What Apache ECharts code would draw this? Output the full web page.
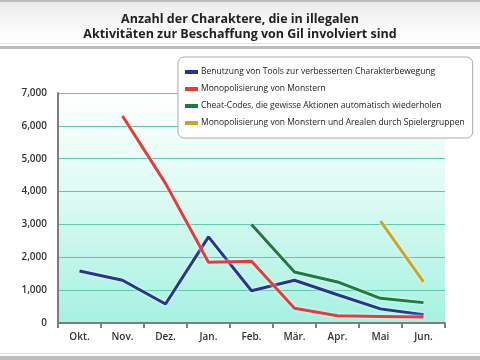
<!DOCTYPE html>
<html><head><meta charset="utf-8">
<script src="https://cdn.jsdelivr.net/npm/echarts@6/dist/echarts.min.js"></script>
<style>html,body{margin:0;padding:0;background:#fff}#c{width:480px;height:360px}</style>
</head><body><div id="c"></div>
<script>
var categories = ['Okt.','Nov.','Dez.','Jan.','Feb.','Mär.','Apr.','Mai','Jun.'];
var seriesNames = [
  'Benutzung von Tools zur verbesserten Charakterbewegung',
  'Monopolisierung von Monstern',
  'Cheat-Codes, die gewisse Aktionen automatisch wiederholen',
  'Monopolisierung von Monstern und Arealen durch Spielergruppen'
];
var toolsValues = [1580, 1300, 580, 2620, 980, 1300, 860, 430, 250];
var monsterValues = [null, 6300, 4250, 1850, 1880, 450, 220, 200, 180];
var cheatValues = [null, null, null, null, 3000, 1550, 1250, 750, 620];
var groupValues = [null, null, null, null, null, null, null, 3100, 1250];
var yTicks = [0, 1000, 2000, 3000, 4000, 5000, 6000, 7000];
var colors = ['#27358f', '#e63b3c', '#1f7a3b', '#c9a626'];
var titleText = 'Anzahl der Charaktere, die in illegalen\nAktivitäten zur Beschaffung von Gil involviert sind';

var chart = echarts.init(document.getElementById('c'), null, {renderer: 'canvas'});
function mk(name, data, color) {
  return {
    name: name, type: 'line', data: data, symbol: 'none', connectNulls: false,
    lineStyle: {color: color, width: 3, shadowColor: 'rgba(255,255,255,0.9)', shadowBlur: 3},
    itemStyle: {color: color}
  };
}
chart.setOption({
  animation: false,
  textStyle: {fontFamily: 'Open Sans'},
  graphic: [
    {type: 'rect', shape: {x: 0, y: 0, width: 480, height: 46}, silent: true, z: -10,
     style: {fill: new echarts.graphic.LinearGradient(0, 0, 0, 1, [
       {offset: 0, color: '#e9e9e9'}, {offset: 0.7, color: '#fcfcfc'}, {offset: 1, color: '#ffffff'}])}},
    {type: 'rect', shape: {x: 0, y: 0, width: 480, height: 2}, style: {fill: '#bdbdbd'}, silent: true, z: -9},
    {type: 'rect', shape: {x: 0, y: 43, width: 480, height: 1}, style: {fill: '#e2e2e2'}, silent: true, z: -9},
    {type: 'rect', shape: {x: 0, y: 46, width: 480, height: 3}, style: {fill: '#bdbdbd'}, silent: true, z: -9},
    {type: 'rect', shape: {x: 0, y: 353, width: 480, height: 1}, style: {fill: '#e2e2e2'}, silent: true, z: -9},
    {type: 'rect', shape: {x: 0, y: 356, width: 480, height: 4}, style: {fill: '#bdbdbd'}, silent: true, z: -9}
  ],
  title: {
    text: titleText, left: 'center', top: 7, itemGap: 0,
    textStyle: {fontFamily: 'Open Sans', fontSize: 12.5, fontWeight: 'bold', color: '#222', lineHeight: 15, align: 'center'}
  },
  legend: {
    orient: 'vertical', left: 178, top: 57,
    backgroundColor: '#fff', borderColor: '#aaa', borderWidth: 1, borderRadius: 6,
    padding: [9, 8, 9, 7], itemGap: 5, itemWidth: 13, itemHeight: 4, icon: 'rect',
    textStyle: {fontFamily: 'Open Sans', fontSize: 8.5, color: '#222', padding: [0, 0, 0, -2], lineHeight: 12, height: 12},
    data: seriesNames
  },
  grid: {
    left: 58, right: 35, top: 93, bottom: 37, show: true, borderWidth: 0,
    backgroundColor: new echarts.graphic.LinearGradient(0, 0, 0, 1, [
      {offset: 0, color: '#fdfffe'}, {offset: 0.45, color: '#dcfaf2'}, {offset: 1, color: '#a5f1e1'}])
  },
  xAxis: {
    type: 'category', data: categories, boundaryGap: true,
    axisLine: {lineStyle: {color: '#7d7d7d', width: 2}},
    axisTick: {show: true, length: 5, lineStyle: {color: '#7d7d7d', width: 2}},
    axisLabel: {color: '#333', fontSize: 10, fontFamily: 'Open Sans', margin: 9, fontWeight: 600}
  },
  yAxis: {
    type: 'value', min: 0, max: 7000, interval: 1000,
    axisLine: {show: true, lineStyle: {color: '#7d7d7d', width: 2}},
    axisTick: {show: false},
    splitLine: {lineStyle: {color: '#5ccaa6', width: 1}},
    axisLabel: {color: '#333', fontSize: 10, fontFamily: 'Open Sans', margin: 11, fontWeight: 600,
      formatter: function (v) { return yTicks.indexOf(v) >= 0 ? v.toLocaleString('en-US') : ''; }}
  },
  series: [
    mk(seriesNames[0], toolsValues, colors[0]),
    mk(seriesNames[1], monsterValues, colors[1]),
    mk(seriesNames[2], cheatValues, colors[2]),
    mk(seriesNames[3], groupValues, colors[3])
  ]
});
</script></body></html>
